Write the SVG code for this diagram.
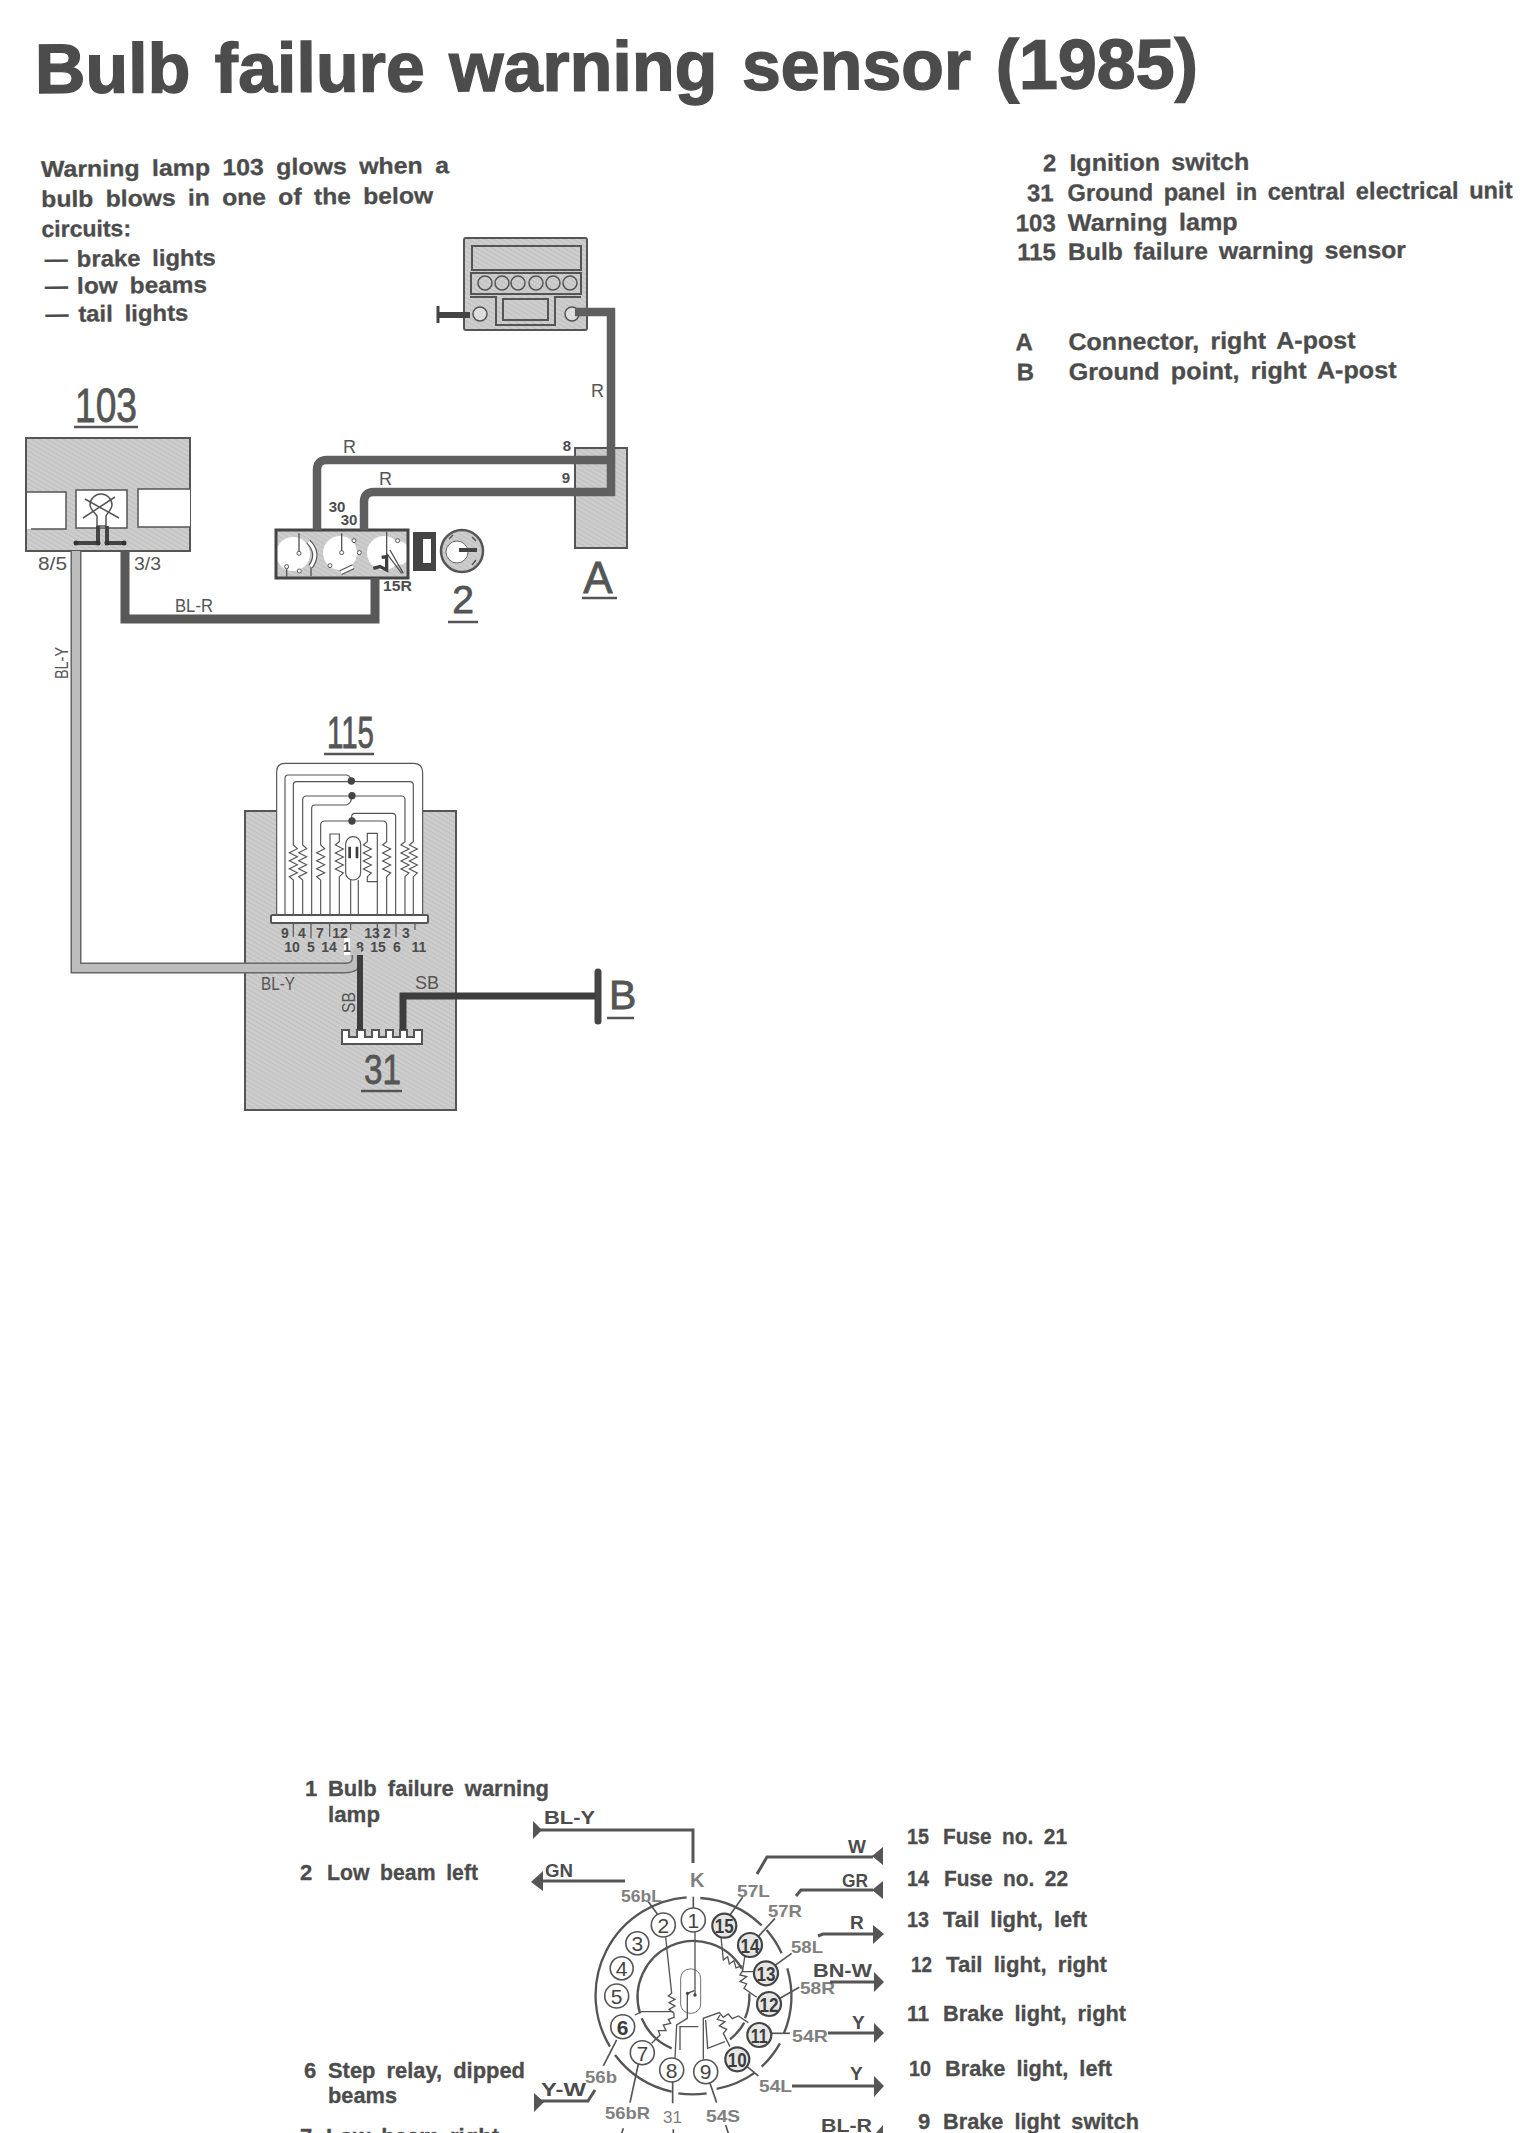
<svg xmlns="http://www.w3.org/2000/svg" width="1529" height="2133" viewBox="0 0 1529 2133">
<style>
text{font-family:"Liberation Sans",Arial,sans-serif;fill:#4c4c4c}
.title{font-size:70px;font-weight:700;word-spacing:5px;stroke:#4c4c4c;stroke-width:1.4}
.body{font-size:23px;font-weight:700;word-spacing:5px;stroke:#4c4c4c;stroke-width:.3}
.leg{font-size:22px;font-weight:700;word-spacing:5px;stroke:#4c4c4c;stroke-width:.3}
.leg24{font-size:24px;font-weight:700;word-spacing:4px;stroke:#4c4c4c;stroke-width:.3}
.lbl{font-size:18px;fill:#555}
.big{fill:#555;stroke:#555;stroke-width:.8}
.pn{font-size:14px;font-weight:700;text-anchor:middle}
.wl{font-size:19px;font-weight:700}
.gl{font-size:17px;font-weight:700;fill:#808080}
.num{font-size:21px;text-anchor:middle;fill:#444}
.numb{font-size:21px;font-weight:700;text-anchor:middle;fill:#3c3c3c}
.box{fill:url(#ht);stroke:#555;stroke-width:2}
.win{fill:#fff;stroke:#555;stroke-width:1.5}
.ln{fill:none;stroke:#555;stroke-width:1.5}
.thin{fill:none;stroke:#555;stroke-width:4}
.wR{fill:none;stroke:#5f5f5f;stroke-width:8.5}
.wBR{fill:none;stroke:#585858;stroke-width:9}
.wBY{fill:none;stroke:#666;stroke-width:11}
.wBYi{fill:none;stroke:#bdbdbd;stroke-width:8}
.wSB{fill:none;stroke:#3d3d3d;stroke-width:6}
.wb{fill:none;stroke:#555;stroke-width:3}
.arr{fill:#555;stroke:none}
.ul{stroke:#555;stroke-width:2.5}
.ring{fill:none;stroke:#555;stroke-width:7}
.cw{fill:none;stroke:#555;stroke-width:5}
.cw2{fill:none;stroke:#555;stroke-width:4}
.cc{fill:#fff;stroke:#555;stroke-width:1.6}
.ccd{fill:#e6e6e6;stroke:#444;stroke-width:2.2}
</style>
<defs>
<pattern id="ht" width="4" height="4" patternUnits="userSpaceOnUse" patternTransform="rotate(30)">
<rect width="4" height="4" fill="#cecece"/><rect width="4" height="1.5" fill="#c2c2c2"/>
</pattern>
<clipPath id="swc"><rect x="277" y="531" width="130" height="46"/></clipPath>
</defs>
<rect width="1529" height="2133" fill="#fff"/>

<g id="title"><text class="title" x="35" y="93" textLength="1163" lengthAdjust="spacingAndGlyphs" transform="rotate(-0.25 35 93)">Bulb failure warning sensor (1985)</text></g>

<g id="notes" transform="rotate(-0.55 41 177)">
<text class="body" x="41" y="177" textLength="408" lengthAdjust="spacingAndGlyphs">Warning lamp 103 glows when a</text>
<text class="body" x="41" y="207" textLength="392" lengthAdjust="spacingAndGlyphs">bulb blows in one of the below</text>
<text class="body" x="41" y="237">circuits:</text>
<text class="body" x="44" y="267">—</text><text class="body" x="76" y="267" textLength="139" lengthAdjust="spacingAndGlyphs">brake lights</text>
<text class="body" x="44" y="294">—</text><text class="body" x="76" y="294" textLength="130" lengthAdjust="spacingAndGlyphs">low beams</text>
<text class="body" x="44" y="322">—</text><text class="body" x="77" y="322" textLength="110" lengthAdjust="spacingAndGlyphs">tail lights</text>
</g>

<g id="legend-top" transform="rotate(-0.35 1068 270)">
<text class="leg24" x="1057" y="171" text-anchor="end">2</text><text class="leg24" x="1070" y="171" textLength="180" lengthAdjust="spacingAndGlyphs">Ignition switch</text>
<text class="leg24" x="1054" y="201" text-anchor="end">31</text><text class="leg24" x="1068" y="201" textLength="445" lengthAdjust="spacingAndGlyphs">Ground panel in central electrical unit</text>
<text class="leg24" x="1056" y="231" text-anchor="end">103</text><text class="leg24" x="1068" y="231" textLength="170" lengthAdjust="spacingAndGlyphs">Warning lamp</text>
<text class="leg24" x="1056" y="260" text-anchor="end">115</text><text class="leg24" x="1068" y="260" textLength="338" lengthAdjust="spacingAndGlyphs">Bulb failure warning sensor</text>
<text class="leg24" x="1015" y="350">A</text><text class="leg24" x="1068" y="350" textLength="287" lengthAdjust="spacingAndGlyphs">Connector, right A-post</text>
<text class="leg24" x="1016" y="380">B</text><text class="leg24" x="1068" y="380" textLength="328" lengthAdjust="spacingAndGlyphs">Ground point, right A-post</text>
</g>

<g id="battery">
<rect class="box" x="464" y="238" width="123" height="92" rx="2"/>
<rect class="box" x="472" y="246" width="109" height="24"/>
<rect class="box" x="471" y="273" width="110" height="21"/>
<g fill="none" stroke="#555" stroke-width="1.5"><circle cx="485" cy="283" r="7"/><circle cx="502" cy="283" r="7"/><circle cx="518" cy="283" r="7"/><circle cx="536" cy="283" r="7"/><circle cx="553" cy="283" r="7"/><circle cx="570" cy="283" r="7"/></g>
<rect class="box" x="503" y="299" width="45" height="21"/>
<path class="ln" style="stroke-width:2" d="M470 297H496V325H555V297H581"/>
<circle cx="480" cy="314" r="7" fill="#ddd" stroke="#555" stroke-width="1.5"/>
<circle cx="572" cy="314" r="7" fill="#ddd" stroke="#555" stroke-width="1.5"/>
</g>

<g id="connector-A">
<rect class="box" x="575" y="448" width="52" height="100"/>
<text class="big" x="598" y="593" font-size="44" text-anchor="middle">A</text>
<line class="ul" x1="582" y1="598" x2="617" y2="598"/>
</g>

<g id="lamp-103">
<text class="big" x="75" y="422" font-size="48" textLength="62" lengthAdjust="spacingAndGlyphs">103</text>
<line class="ul" x1="74" y1="427" x2="138" y2="427"/>
<rect class="box" x="26" y="438" width="164" height="113"/>
<rect x="27" y="492" width="39" height="37" fill="#fff"/>
<path class="ln" d="M27 492H66V529H31"/>
<rect class="win" x="76" y="490" width="51" height="38"/>
<path class="win" d="M190 489H138V527H190"/>
<path class="ln" d="M97 526V516C94 512 90 509 90 505A11 11 0 1 1 112 505C112 509 108 512 106 516V526Z"/>
<path class="ln" d="M85 499L119 518M115 497L83 518"/>
<path class="thin" style="stroke:#444" d="M98 526V543H76M107 526V543H124"/>
<circle cx="76" cy="543" r="2.5" fill="#333"/><circle cx="124" cy="543" r="2.5" fill="#333"/><circle cx="98" cy="543" r="2.5" fill="#333"/><circle cx="107" cy="543" r="2.5" fill="#333"/>
</g>

<g id="switch-2">
<rect x="276" y="530" width="132" height="48" fill="url(#ht)"/>
<g clip-path="url(#swc)" fill="#fff">
<circle cx="293" cy="554" r="17"/><circle cx="340" cy="553" r="17"/><circle cx="384" cy="553" r="17"/><circle cx="398" cy="553" r="12"/>
</g>
<g transform="translate(240 220) scale(.3333)">
<path class="ln" style="stroke-width:4" d="M177 940V995M140 1045V1070M213 1040V1068M305 940V995M440 935V1040M450 990L490 1060M440 1000L485 1060"/>
<g fill="#fff" stroke="#555" stroke-width="3"><circle cx="177" cy="1000" r="6"/><circle cx="140" cy="1040" r="6"/><circle cx="178" cy="1053" r="6"/><circle cx="305" cy="998" r="6"/><circle cx="342" cy="962" r="6"/><circle cx="358" cy="998" r="6"/><circle cx="270" cy="1037" r="6"/><circle cx="473" cy="962" r="6"/></g>
<path fill="none" stroke="#555" stroke-width="16" d="M205 965Q240 1000 212 1040"/>
<path fill="none" stroke="#fff" stroke-width="9" d="M205 965Q240 1000 212 1040"/>
<path fill="none" stroke="#555" stroke-width="16" d="M302 1058L340 1040"/>
<path fill="none" stroke="#fff" stroke-width="9" d="M302 1058L340 1040"/>
<path fill="none" stroke="#3f3f3f" stroke-width="10" d="M400 1045L420 1040L440 1050V1010L425 1012"/>
</g>
<rect x="276" y="530" width="132" height="48" fill="none" stroke="#444" stroke-width="3"/>
<path fill="#444" fill-rule="evenodd" d="M413 532H436V571H413ZM423 539V563H431V539Z"/>
<circle cx="462" cy="551" r="21" fill="url(#ht)" stroke="#555" stroke-width="2.5"/>
<circle cx="457" cy="552" r="11" fill="#fff" stroke="#666" stroke-width="1"/>
<path fill="none" stroke="#444" stroke-width="4" d="M459 550H477"/>
<path class="ln" d="M449 539L453 535M472 565L476 560M472 537L476 541"/>
<text class="big" x="463" y="613" font-size="39" text-anchor="middle">2</text>
<line class="ul" x1="448" y1="622" x2="478" y2="622"/>
</g>

<g id="sensor-115">
<rect class="box" x="245" y="811" width="211" height="299"/>
<text class="big" x="327" y="748" font-size="44" textLength="47" lengthAdjust="spacingAndGlyphs">115</text>
<line class="ul" x1="324" y1="754" x2="374" y2="754"/>
<path d="M276 914V772Q276 762 286 762H413Q423 762 423 772V914Z" fill="#fff"/>
<g transform="translate(230 690) scale(.3333)">
<g fill="none" stroke="#555" stroke-width="3.5">
<path d="M140 672V245Q140 220 165 220H550Q578 220 578 248V672"/>
<path d="M165 672V265Q165 255 175 255H350Q362 258 362 270"/>
<path d="M190 672V570L178 560L202 548L178 536L202 524L178 512L202 500L178 488L202 476L190 465V285Q190 275 200 275H540Q550 275 550 285V455L538 465L562 477L538 489L562 501L538 513L562 525L538 537L562 549L550 560V672"/>
<path d="M218 672V570L206 560L230 548L206 536L230 524L206 512L230 500L206 488L230 476L218 465V330Q218 318 230 318H515Q525 318 525 330V455L513 465L537 477L513 489L537 501L513 513L537 525L513 537L537 549L525 560V672"/>
<path d="M245 672V355Q245 345 255 345H350Q365 340 365 318"/>
<path d="M272 672V570L260 560L284 548L260 536L284 524L260 512L284 500L260 488L284 476L272 465V405Q272 393 285 393H458Q470 393 470 405V455L458 465L482 477L458 489L482 501L458 513L482 525L458 537L482 549L470 560V672"/>
<path d="M365 393V380Q365 370 375 370H487Q497 370 497 380V672"/>
<path d="M300 672V432H328V455L316 465L340 477L316 489L340 501L316 513L340 525L316 537L340 549L328 560V672"/>
<path d="M442 672V430H412V455L400 465L424 477L400 489L424 501L400 513L424 525L400 537L424 549L412 560V575H442"/>
<rect x="347" y="440" width="45" height="130" rx="22"/>
<path d="M362 570V672M385 570V672"/>
<path d="M190 698V740M243 698V745M299 698V740M362 698V720M442 698V745M498 698V740M555 698V720"/>
</g>
<path fill="none" stroke="#3d3d3d" stroke-width="8" d="M359 470V505M381 470V505"/>
<g fill="#444"><circle cx="364" cy="273" r="11"/><circle cx="366" cy="317" r="11"/><circle cx="366" cy="393" r="11"/></g>
</g>
<rect x="271" y="915" width="157" height="8" rx="1.5" fill="#fff" stroke="#555" stroke-width="2"/>
<g id="sensor-pins">
<text class="pn" x="285" y="938">9</text><text class="pn" x="302" y="938">4</text><text class="pn" x="320" y="938">7</text><text class="pn" x="340" y="938">12</text><text class="pn" x="372" y="938">13</text><text class="pn" x="387" y="938">2</text><text class="pn" x="406" y="938">3</text>
<text class="pn" x="292" y="952">10</text><text class="pn" x="311" y="952">5</text><text class="pn" x="329" y="952">14</text><rect x="344" y="938" width="6" height="17" fill="#fff"/><text class="pn" x="347" y="952">1</text><text class="pn" x="360" y="952">8</text><text class="pn" x="378" y="952">15</text><text class="pn" x="397" y="952">6</text><text class="pn" x="419" y="952">11</text>
</g>
</g>

<g id="ground-31">
<path fill="#fff" stroke="#555" stroke-width="2" d="M342 1044V1030H349V1037H357V1030H365V1037H372V1030H379V1037H386V1030H393V1037H400V1030H407V1037H414V1030H422V1044Z"/>
<text class="big" x="364" y="1084" font-size="43" textLength="37" lengthAdjust="spacingAndGlyphs">31</text>
<line class="ul" x1="361" y1="1091" x2="402" y2="1091"/>
</g>

<g id="ground-B">
<line x1="598" y1="972" x2="598" y2="1021" stroke="#444" stroke-width="7" stroke-linecap="round"/>
<text class="big" x="609" y="1009" font-size="41">B</text>
<line class="ul" x1="607" y1="1018" x2="634" y2="1018"/>
</g>

<g id="connectors">
<path class="wR" d="M575 312H611V492H374Q364 492 364 502V530"/>
<path class="wR" d="M611 460H327Q317 460 317 470V530"/>
<path fill="none" stroke="#444" stroke-width="6" d="M437 315H470"/>
<line x1="438" y1="306" x2="438" y2="323" stroke="#444" stroke-width="3"/>
<path class="wBR" d="M375 578V619H125V551"/>
<path class="wBY" d="M76 551V968H345Q357 968 357 958V955"/>
<path class="wBYi" d="M76 551V968H345Q357 968 357 958V948"/>
<path class="wSB" d="M360 955V1030"/>
<path class="wSB" style="stroke-width:7" d="M403 1030V996H595"/>
</g>

<g id="wire-labels">
<text class="lbl" x="591" y="397">R</text>
<text class="lbl" x="343" y="453">R</text>
<text class="lbl" x="379" y="485">R</text>
<text class="pn" x="567" y="451" style="font-size:15px">8</text>
<text class="pn" x="566" y="483" style="font-size:15px">9</text>
<text class="pn" x="337" y="512" style="font-size:15px">30</text>
<text class="pn" x="349" y="525" style="font-size:15px">30</text>
<text class="pn" style="font-size:14px;text-anchor:start" x="383" y="591" textLength="29" lengthAdjust="spacingAndGlyphs">15R</text>
<text class="lbl" x="175" y="612" textLength="38" lengthAdjust="spacingAndGlyphs">BL-R</text>
<text class="lbl" x="134" y="570" textLength="27" lengthAdjust="spacingAndGlyphs">3/3</text>
<text class="lbl" x="38" y="570" textLength="29" lengthAdjust="spacingAndGlyphs">8/5</text>
<text class="lbl" x="68" y="679" transform="rotate(-90 68 679)" textLength="32" lengthAdjust="spacingAndGlyphs">BL-Y</text>
<text class="lbl" x="261" y="990" textLength="34" lengthAdjust="spacingAndGlyphs">BL-Y</text>
<text class="lbl" x="415" y="989" textLength="24" lengthAdjust="spacingAndGlyphs">SB</text>
<text class="lbl" x="355" y="1013" transform="rotate(-90 355 1013)" textLength="21" lengthAdjust="spacingAndGlyphs">SB</text>
</g>

<g id="legend-bottom">
<text class="leg" x="305" y="1796">1</text><text class="leg" x="328" y="1796" textLength="221" lengthAdjust="spacingAndGlyphs">Bulb failure warning</text>
<text class="leg" x="328" y="1822" textLength="52" lengthAdjust="spacingAndGlyphs">lamp</text>
<text class="leg" x="300" y="1880">2</text><text class="leg" x="327" y="1880" textLength="151" lengthAdjust="spacingAndGlyphs">Low beam left</text>
<text class="leg" x="304" y="2078">6</text><text class="leg" x="328" y="2078" textLength="197" lengthAdjust="spacingAndGlyphs">Step relay, dipped</text>
<text class="leg" x="328" y="2103" textLength="69" lengthAdjust="spacingAndGlyphs">beams</text>
<text class="leg" x="300" y="2144">7</text><text class="leg" x="326" y="2144" textLength="173" lengthAdjust="spacingAndGlyphs">Low beam right</text>
<text class="leg" x="907" y="1844" textLength="22" lengthAdjust="spacingAndGlyphs">15</text><text class="leg" x="943" y="1844" textLength="124" lengthAdjust="spacingAndGlyphs">Fuse no. 21</text>
<text class="leg" x="907" y="1886" textLength="22" lengthAdjust="spacingAndGlyphs">14</text><text class="leg" x="944" y="1886" textLength="124" lengthAdjust="spacingAndGlyphs">Fuse no. 22</text>
<text class="leg" x="907" y="1927" textLength="22" lengthAdjust="spacingAndGlyphs">13</text><text class="leg" x="943" y="1927" textLength="144" lengthAdjust="spacingAndGlyphs">Tail light, left</text>
<text class="leg" x="911" y="1972" textLength="21" lengthAdjust="spacingAndGlyphs">12</text><text class="leg" x="946" y="1972" textLength="161" lengthAdjust="spacingAndGlyphs">Tail light, right</text>
<text class="leg" x="907" y="2021" textLength="22" lengthAdjust="spacingAndGlyphs">11</text><text class="leg" x="943" y="2021" textLength="183" lengthAdjust="spacingAndGlyphs">Brake light, right</text>
<text class="leg" x="909" y="2076" textLength="22" lengthAdjust="spacingAndGlyphs">10</text><text class="leg" x="945" y="2076" textLength="167" lengthAdjust="spacingAndGlyphs">Brake light, left</text>
<text class="leg" x="918" y="2129">9</text><text class="leg" x="943" y="2129" textLength="196" lengthAdjust="spacingAndGlyphs">Brake light switch</text>
</g>

<g id="sensor-connector">
<g transform="translate(560 1780) scale(.3333)">
<g class="ring">
<path d="M421 354A295 295 0 0 1 605 436"/>
<path d="M620 450A295 295 0 0 1 665 520"/>
<path d="M682 565A295 295 0 0 1 672 760"/>
<path d="M660 790A295 295 0 0 1 605 860"/>
<path d="M470 927A295 295 0 0 0 585 878"/>
<path d="M355 940A295 295 0 0 0 440 940"/>
<path d="M335 935A295 295 0 0 1 165 825"/>
<path d="M150 800A295 295 0 0 1 380 352"/>
<path d="M240 700A168 168 0 0 1 545 565"/>
<path d="M568 640A168 168 0 0 1 555 715"/>
<path d="M553 728A168 168 0 0 1 510 778"/>
<path d="M245 715A168 168 0 0 0 335 805"/>
</g>
<g class="cw">
<path d="M400 350V385"/>
<path d="M265 365L292 402"/>
<path d="M548 352L510 405"/>
<path d="M645 415L590 475"/>
<path d="M695 520L640 560"/>
<path d="M718 622L660 655"/>
<path d="M635 760H690"/>
<path d="M555 855L595 888"/>
<path d="M170 780L130 858"/>
<path d="M235 852L210 968"/>
<path d="M338 905V970"/>
<path d="M450 910L470 968"/>
<path d="M190 1045L185 1060M340 1048V1060M497 1035L505 1060"/>
</g>
<g class="cw2">
<path d="M317 472L335 640L325 648L345 658L327 668L345 678L327 688L342 700V715"/>
<path d="M225 705L245 695H340"/>
<path d="M275 790L300 765L295 752L318 752L310 735L332 730L325 718L342 712"/>
<path d="M405 455V645"/>
<path d="M345 835L350 735L382 715V640L403 632"/>
<path d="M360 810V740H415"/>
<path d="M430 838V715L478 698L490 712L505 702L517 716L535 708L565 728"/>
<path d="M480 705L472 718L495 725L478 738L500 748L490 760L510 800"/>
<path d="M437 720L443 805L495 785"/>
<path d="M483 470L490 540L503 530L508 552L522 542L528 564L545 558L548 575H585"/>
<path d="M555 525L548 572L540 585L560 590L540 605L560 612L552 625L590 652"/>
<rect x="362" y="567" width="60" height="133" rx="28" stroke-width="2.5"/>
</g>
<circle cx="405" cy="645" r="5" fill="#444"/><circle cx="383" cy="640" r="5" fill="#444"/>
</g>
<g class="cc">
<circle cx="693.3" cy="1920" r="12"/><circle cx="663.3" cy="1925" r="12"/><circle cx="637.3" cy="1943.3" r="11.5"/><circle cx="621.7" cy="1968.3" r="11.5"/><circle cx="616.7" cy="1996" r="12"/><circle cx="622.7" cy="2026.7" r="12"/><circle cx="642.3" cy="2052.7" r="12"/><circle cx="671.7" cy="2070" r="12"/><circle cx="705.7" cy="2071.7" r="12"/>
</g>
<g class="ccd">
<circle cx="737.3" cy="2059.3" r="12"/><circle cx="759.3" cy="2035" r="12"/><circle cx="769" cy="2004" r="12"/><circle cx="766" cy="1973.3" r="12"/><circle cx="750" cy="1945" r="12"/><circle cx="724.3" cy="1925.7" r="12"/>
</g>
<text class="num" x="693.3" y="1927.5">1</text><text class="num" x="663.3" y="1932.5">2</text><text class="num" x="637.3" y="1951">3</text><text class="num" x="621.7" y="1976">4</text><text class="num" x="616.7" y="2003.5">5</text><text class="numb" x="622.7" y="2034.5">6</text><text class="num" x="642.3" y="2060.5">7</text><text class="num" x="671.7" y="2077.5">8</text><text class="num" x="705.7" y="2079">9</text>
<text class="numb" x="737.3" y="2066.5" textLength="19" lengthAdjust="spacingAndGlyphs">10</text><text class="numb" x="759.3" y="2042.5" textLength="17" lengthAdjust="spacingAndGlyphs">11</text><text class="numb" x="769" y="2011.5" textLength="19" lengthAdjust="spacingAndGlyphs">12</text><text class="numb" x="766" y="1981" textLength="19" lengthAdjust="spacingAndGlyphs">13</text><text class="numb" x="750" y="1952.5" textLength="19" lengthAdjust="spacingAndGlyphs">14</text><text class="numb" x="724.3" y="1933" textLength="19" lengthAdjust="spacingAndGlyphs">15</text>
<g id="terminal-labels">
<text class="gl" x="690" y="1887" style="font-size:20px">K</text>
<text class="gl" x="621" y="1902" textLength="41" lengthAdjust="spacingAndGlyphs">56bL</text>
<text class="gl" x="737" y="1897" textLength="33" lengthAdjust="spacingAndGlyphs">57L</text>
<text class="gl" x="768" y="1917" textLength="34" lengthAdjust="spacingAndGlyphs">57R</text>
<text class="gl" x="791" y="1953" textLength="32" lengthAdjust="spacingAndGlyphs">58L</text>
<text class="gl" x="800" y="1994" textLength="35" lengthAdjust="spacingAndGlyphs">58R</text>
<text class="gl" x="792" y="2042" textLength="36" lengthAdjust="spacingAndGlyphs">54R</text>
<text class="gl" x="759" y="2092" textLength="33" lengthAdjust="spacingAndGlyphs">54L</text>
<text class="gl" x="585" y="2083" textLength="32" lengthAdjust="spacingAndGlyphs">56b</text>
<text class="gl" x="605" y="2119" textLength="45" lengthAdjust="spacingAndGlyphs">56bR</text>
<text class="gl" x="663" y="2123" textLength="19" lengthAdjust="spacingAndGlyphs" style="font-weight:400">31</text>
<text class="gl" x="706" y="2122" textLength="34" lengthAdjust="spacingAndGlyphs">54S</text>
</g>
</g>

<g id="connectors-bottom">
<path class="wb" d="M540 1830H693V1863"/>
<path class="wb" d="M540 1881H625"/>
<path class="wb" d="M540 2101H588L595 2090"/>
<path class="wb" d="M757 1874L767 1857H873"/>
<path class="wb" d="M796 1896L801 1890H873"/>
<path class="wb" d="M818 1936L823 1934H874"/>
<path class="wb" d="M830 1982H874"/>
<path class="wb" d="M828 2033H874"/>
<path class="wb" d="M792 2086H874"/>
<path class="arr" d="M533 1821L542 1830L533 1839Z"/>
<path class="arr" d="M531 1882L543 1871V1891Z"/>
<path class="arr" d="M534 2093L544 2102L534 2112Z"/>
<path class="arr" d="M872 1856L883 1847V1865Z"/>
<path class="arr" d="M872 1890L883 1881V1899Z"/>
<path class="arr" d="M884 1934L873 1925V1944Z"/>
<path class="arr" d="M884 1982L874 1972V1992Z"/>
<path class="arr" d="M884 2033L874 2023V2043Z"/>
<path class="arr" d="M884 2086L874 2076V2097Z"/>
<path class="arr" d="M876 2133L883 2125V2133Z"/>
</g>

<g id="bottom-wire-labels">
<text class="wl" x="544" y="1824" textLength="51" lengthAdjust="spacingAndGlyphs">BL-Y</text>
<text class="wl" x="545" y="1877" textLength="28" lengthAdjust="spacingAndGlyphs">GN</text>
<text class="wl" x="541" y="2096" textLength="45" lengthAdjust="spacingAndGlyphs">Y-W</text>
<text class="wl" x="848" y="1853">W</text>
<text class="wl" x="842" y="1887" textLength="26" lengthAdjust="spacingAndGlyphs">GR</text>
<text class="wl" x="850" y="1929">R</text>
<text class="wl" x="813" y="1977" textLength="59" lengthAdjust="spacingAndGlyphs">BN-W</text>
<text class="wl" x="852" y="2029">Y</text>
<text class="wl" x="850" y="2080">Y</text>
<text class="wl" x="821" y="2132" textLength="51" lengthAdjust="spacingAndGlyphs">BL-R</text>
</g>
</svg>
